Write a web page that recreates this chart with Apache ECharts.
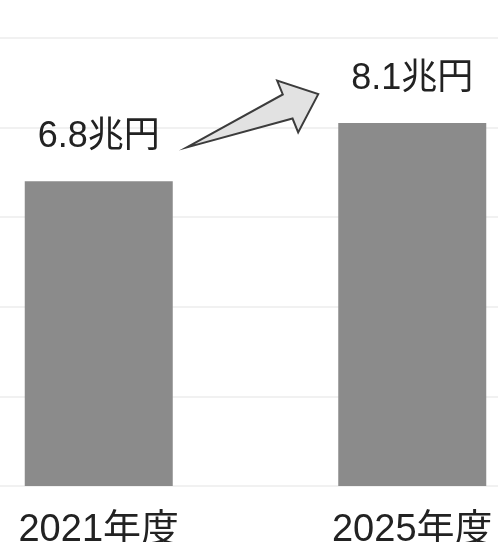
<!DOCTYPE html>
<html>
<head>
<meta charset="utf-8">
<script src="https://cdn.jsdelivr.net/npm/echarts@6/dist/echarts.min.js"></script>
<style>
  html, body { margin: 0; padding: 0; background: #ffffff; overflow: hidden; }
  body { position: relative; width: 498px; height: 542px; }
  /* plot area runs past both window edges, so the outer bands are cut off */
  #chart { position: absolute; left: -58px; top: 0; width: 627px; height: 542px; }
</style>
</head>
<body>
<div id="chart"></div>
<script>
// Market size by fiscal year (trillion yen)
const categories = ['2021年度', '2025年度'];
const values = [6.8, 8.1];
const valueLabels = ['6.8兆円', '8.1兆円'];

const FONT = "'Liberation Sans', 'Noto Sans CJK JP', sans-serif";

const chart = echarts.init(document.getElementById('chart'), null, { renderer: 'canvas' });

chart.setOption({
  animation: false,
  backgroundColor: '#ffffff',
  grid: {
    left: 0, right: 0, top: 38, bottom: 56,
    containLabel: false,
    outerBoundsMode: 'none'
  },
  xAxis: {
    type: 'category',
    data: categories,
    axisLine: { show: false },
    axisTick: { show: false },
    axisLabel: {
      margin: 26,
      fontSize: 38,
      color: '#222222',
      fontFamily: FONT
    }
  },
  yAxis: {
    type: 'value',
    min: 0,
    max: 10,
    interval: 2,
    axisLine: { show: false },
    axisTick: { show: false },
    axisLabel: { show: false },
    splitLine: { lineStyle: { color: '#ececec', width: 1.5 } }
  },
  series: [{
    type: 'bar',
    data: values,
    barWidth: 148,
    itemStyle: { color: '#8b8b8b' },
    label: {
      show: true,
      position: 'top',
      distance: 26,
      fontSize: 36,
      color: '#222222',
      fontFamily: FONT,
      formatter: p => valueLabels[p.dataIndex]
    }
  }]
});

// Block arrow pointing from the first bar's label toward the second
function drawArrow() {
  const p0 = chart.convertToPixel({ seriesIndex: 0 }, [0, values[0]]);
  const p1 = chart.convertToPixel({ seriesIndex: 0 }, [1, values[1]]);
  const tail = [p0[0] + 88, p0[1] - 34];
  const tip = [p1[0] - 94, p1[1] - 29];
  const dx = tip[0] - tail[0], dy = tip[1] - tail[1];
  const len = Math.hypot(dx, dy);
  const u = [dx / len, dy / len];
  const n = [u[1], -u[0]];          // normal on the upper side
  const neck = len - 33;            // where the head begins
  const shaftHalf = 13, headHalf = 28;
  const at = (a, b) => [tail[0] + u[0] * a + n[0] * b, tail[1] + u[1] * a + n[1] * b];
  const points = [
    at(0, 0),
    at(neck, shaftHalf),
    at(neck, headHalf),
    at(len, 0),
    at(neck, -headHalf),
    at(neck, -shaftHalf)
  ];
  chart.setOption({
    graphic: [{
      type: 'polygon',
      shape: { points: points },
      style: { fill: '#e2e2e2', stroke: '#3c3c3c', lineWidth: 2, lineJoin: 'miter' },
      z: 10
    }]
  });
}
drawArrow();
</script>
</body>
</html>
